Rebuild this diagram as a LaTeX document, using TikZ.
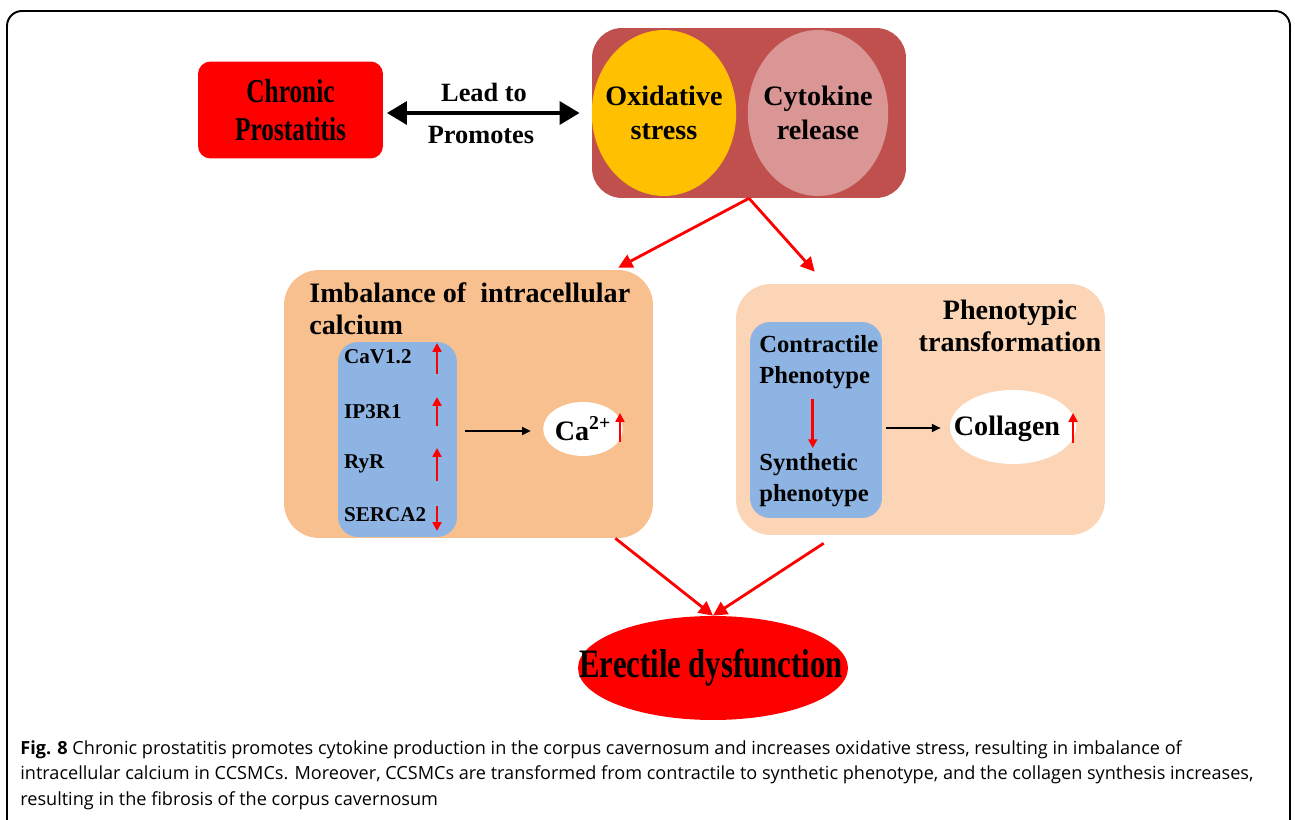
\documentclass[tikz,border=0pt]{standalone}
\usepackage{fontspec}
\setmainfont{Liberation Serif}
\newfontfamily\narrowfont{Liberation Serif}[FakeStretch=0.76]
\newfontfamily\capfont{Open Sans}
\usetikzlibrary{arrows.meta,shapes.geometric}
\definecolor{boxred}{HTML}{C0504D}
\definecolor{oxyellow}{HTML}{FFC000}
\definecolor{cytpink}{HTML}{D99694}
\definecolor{calorange}{HTML}{F9C08F}
\definecolor{phepeach}{HTML}{FBD5B5}
\definecolor{innerblue}{HTML}{8EB4E3}

\begin{document}
\begin{tikzpicture}[x=0.02cm,y=-0.02cm,
    box/.style={rectangle,inner sep=0pt,font=\bfseries},
    blob/.style={ellipse,inner sep=0pt,font=\bfseries},
    redarr/.style={-{Triangle[length=8pt,width=8pt]},red,line width=1.6pt},
    uparr/.style={-{Triangle[length=5pt,width=5pt]},red,line width=1.5pt},
    blackarr/.style={-{Triangle[length=5pt,width=4.5pt]},line width=1pt}]
    \useasboundingbox (0,0) rectangle (1295,820);
    % frame of the figure
    \draw[line width=1.1pt,rounded corners=0.3cm] (7,840) -- (7,11) -- (1290,11) -- (1290,840);

    % top row
    \node[box,fill=red,rounded corners=0.25cm,minimum width=3.7cm,minimum height=1.94cm,
        align=center,font=\narrowfont\bfseries\fontsize{19}{21.5}\selectfont] (cp) at (290.5,110) {Chronic\\Prostatitis};
    \node[box,fill=boxred,rounded corners=0.6cm,minimum width=6.28cm,minimum height=3.4cm] (top) at (749,113) {};
    \node[blob,fill=oxyellow,inner xsep=-0.15cm,minimum width=2.88cm,minimum height=3.32cm,align=center,
        font=\bfseries\fontsize{16}{19}\selectfont] (ox) at (664,113) {Oxidative\\stress};
    \node[blob,fill=cytpink,inner xsep=-0.1cm,minimum width=2.8cm,minimum height=3.32cm,align=center,
        font=\bfseries\fontsize{16}{19}\selectfont] (cyt) at (818,113) {Cytokine\\release};
    \draw[{Triangle[length=0.4cm,width=0.45cm]}-{Triangle[length=0.4cm,width=0.45cm]},line width=2.6pt,
        shorten <=2pt,shorten >=0.24cm] ([yshift=-0.06cm]cp.east) -- ([yshift=-0.06cm]cp.east -| top.west);
    \node[font=\bfseries\fontsize{15}{18}\selectfont] (lead) at (484,92) {Lead to};
    \node[font=\bfseries\fontsize{15}{18}\selectfont] (prom) at (481,135) {Promotes};

    % calcium box
    \node[box,fill=calorange,rounded corners=0.7cm,minimum width=7.38cm,minimum height=5.36cm] (imb) at (468.5,404) {};
    \node[anchor=north west,align=left,inner sep=0pt,font=\bfseries\fontsize{16}{18.5}\selectfont] (imbt) at (309,282)
        {Imbalance of~ intracellular\\calcium};
    \node[box,fill=innerblue,rounded corners=0.4cm,minimum width=2.38cm,minimum height=3.9cm] (blueA) at (397.5,439.5) {};
    \node[anchor=west,font=\bfseries\fontsize{12}{14}\selectfont] (cav) at (338,357) {CaV1.2};
    \node[anchor=west,font=\bfseries\fontsize{12}{14}\selectfont] (ip3) at (338,412) {IP3R1};
    \node[anchor=west,font=\bfseries\fontsize{12}{14}\selectfont] (ryr) at (338,464) {RyR};
    \node[anchor=west,font=\bfseries\fontsize{12}{14}\selectfont] (serca) at (338,515) {SERCA2};
    \draw[uparr] (437,374) -- (437,343);
    \draw[uparr] (437,426) -- (437,397);
    \draw[uparr] (437,481) -- (437,448);
    \draw[uparr] (437,506) -- (437,531);
    \node[blob,fill=white,minimum width=1.32cm,minimum height=1.08cm,
        font=\bfseries\fontsize{16}{19}\selectfont] (ca) at (583,429) {Ca\textsuperscript{2+}};
    \draw[uparr] (620,442) -- (620,413);
    \draw[blackarr,shorten <=0.16cm,shorten >=0.24cm] ([yshift=0.17cm]blueA.east) -- ([yshift=0.17cm]blueA.east -| ca.west);

    % phenotype box
    \node[box,fill=phepeach,rounded corners=0.7cm,minimum width=7.38cm,minimum height=5.02cm] (phe) at (920.5,409.5) {};
    \node[align=center,inner sep=0pt,font=\bfseries\fontsize{16}{18.5}\selectfont] (phet) at (1010,326)
        {Phenotypic\\transformation};
    \node[box,fill=innerblue,rounded corners=0.4cm,minimum width=2.64cm,minimum height=3.92cm] (blueB) at (816,420) {};
    \node[anchor=west,align=left,inner sep=0pt,font=\bfseries\fontsize{14}{17.5}\selectfont] (contr) at (759,362)
        {Contractile\\Phenotype};
    \node[anchor=west,align=left,inner sep=0pt,font=\bfseries\fontsize{14}{17.5}\selectfont] (synth) at (759,480)
        {Synthetic\\phenotype};
    \draw[uparr,line width=1.7pt,shorten <=0.2cm,shorten >=0.1cm] ([xshift=-0.12cm]contr.south) -- ([xshift=-0.12cm]contr.south |- synth.north);
    \node[blob,fill=white,minimum width=2.52cm,minimum height=1.48cm] (col) at (1013,427) {};
    \node[font=\bfseries\fontsize{16}{19}\selectfont] (colt) at (1007,429) {Collagen};
    \draw[uparr] (1073,443) -- (1073,413);
    \draw[blackarr,shorten <=0.08cm,shorten >=0.18cm] ([yshift=-0.16cm]blueB.east) -- ([yshift=-0.16cm]blueB.east -| col.west);

    % outcome
    \node[blob,fill=red,minimum width=5.4cm,minimum height=2.08cm] (ed) at (713,668) {};
    \node[font=\narrowfont\bfseries\fontsize{23}{26}\selectfont] (edt) at (711,668) {Erectile dysfunction};

    % red connectors
    \draw[redarr] (top.south) -- ([xshift=-0.7cm,yshift=0.04cm]imb.north east);
    \draw[redarr] (top.south) -- ([xshift=1.58cm,yshift=0.24cm]phe.north west);
    \draw[redarr] ([xshift=-0.76cm]imb.south east) -- (ed.north);
    \draw[redarr] ([xshift=1.76cm,yshift=-0.16cm]phe.south west) -- (ed.north);

    % caption
    \node[anchor=north west,align=left,inner sep=0pt,font=\capfont\fontsize{10.3}{14.6}\selectfont] (cap) at (20,740)
        {\textbf{Fig. 8} Chronic prostatitis promotes cytokine production in the corpus cavernosum and increases oxidative stress, resulting in imbalance of\\
        intracellular calcium in CCSMCs. Moreover, CCSMCs are transformed from contractile to synthetic phenotype, and the collagen synthesis increases,\\
        resulting in the fibrosis of the corpus cavernosum};
\end{tikzpicture}
\end{document}
